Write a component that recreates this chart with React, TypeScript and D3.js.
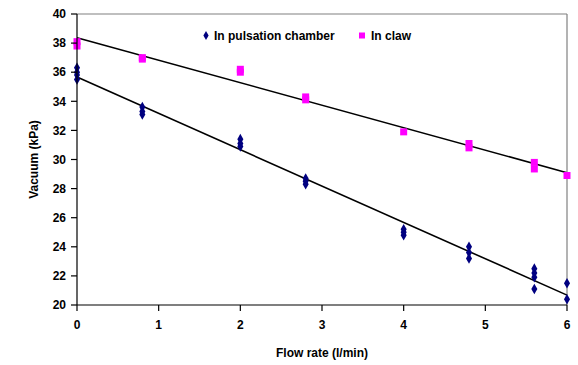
import React from 'react';
import * as d3 from 'd3';

// Flow rate (l/min) and vacuum (kPa) readings
const chamberX = [0, 0, 0, 0, 0.8, 0.8, 0.8, 2, 2, 2, 2.8, 2.8, 2.8, 4, 4, 4, 4.8, 4.8, 4.8, 5.6, 5.6, 5.6, 5.6, 6, 6];
const chamberY = [36.3, 36.0, 35.8, 35.5, 33.6, 33.3, 33.1, 31.4, 31.1, 30.9, 28.7, 28.5, 28.3, 25.2, 25.0, 24.8, 24.0, 23.6, 23.2, 22.5, 22.2, 21.9, 21.1, 21.5, 20.4];
const clawX = [0, 0, 0.8, 0.8, 2, 2, 2.8, 2.8, 4, 4.8, 4.8, 5.6, 5.6, 6];
const clawY = [38.1, 37.8, 37.0, 36.9, 36.2, 36.0, 34.3, 34.1, 31.9, 31.1, 30.8, 29.8, 29.35, 28.9];

const xTicks = [0, 1, 2, 3, 4, 5, 6];
const yTicks = [20, 22, 24, 26, 28, 30, 32, 34, 36, 38, 40];

const W = 578;
const H = 365;
const margin = { top: 14, right: 11, bottom: 60, left: 77 };
const FONT = '"Liberation Sans", Arial, sans-serif';

// least squares trend line
function fit(xs: number[], ys: number[]) {
  const mx = d3.mean(xs)!;
  const my = d3.mean(ys)!;
  let num = 0;
  let den = 0;
  xs.forEach((x, i) => {
    num += (x - mx) * (ys[i] - my);
    den += (x - mx) * (x - mx);
  });
  const slope = num / den;
  return { slope, intercept: my - slope * mx };
}

export default function App() {
  const innerW = W - margin.left - margin.right;
  const innerH = H - margin.top - margin.bottom;
  const x = d3.scaleLinear().domain([0, 6]).range([0, innerW]);
  const y = d3.scaleLinear().domain([20, 40]).range([innerH, 0]);

  const chamberFit = fit(chamberX, chamberY);
  const clawFit = fit(clawX, clawY);
  const trend = (f: { slope: number; intercept: number }) =>
    d3.line<[number, number]>().x(d => x(d[0])).y(d => y(d[1]))([
      [0, f.intercept],
      [6, f.intercept + 6 * f.slope],
    ]) || '';

  const diamond = d3.symbol().type(d3.symbolDiamond).size(32)() || '';

  return (
    <svg width={W} height={H} style={{ position: 'absolute', left: 0, top: 0, fontFamily: FONT }}>
      <rect width={W} height={H} fill="#fff" />
      <g transform={`translate(${margin.left},${margin.top})`}>
        {/* plot frame: gray top/right */}
        <line x1={0} x2={innerW} y1={0} y2={0} stroke="#808080" strokeWidth={1.2} />
        <line x1={innerW} x2={innerW} y1={0} y2={innerH} stroke="#808080" strokeWidth={1.2} />

        {/* trend lines */}
        <path d={trend(clawFit)} stroke="#000" strokeWidth={1.6} fill="none" />
        <path d={trend(chamberFit)} stroke="#000" strokeWidth={1.6} fill="none" />

        {/* points */}
        {clawX.map((v, i) => (
          <rect key={`c${i}`} x={x(v) - 3.5} y={y(clawY[i]) - 3.5} width={7} height={7} fill="#FF00FF" />
        ))}
        {chamberX.map((v, i) => (
          <path key={`p${i}`} d={diamond} transform={`translate(${x(v)},${y(chamberY[i])})`} fill="#000080" />
        ))}

        {/* axes */}
        <line x1={0} x2={0} y1={0} y2={innerH} stroke="#000" strokeWidth={1.2} />
        <line x1={0} x2={innerW} y1={innerH} y2={innerH} stroke="#000" strokeWidth={1.2} />
        {yTicks.map(t => (
          <g key={`y${t}`} transform={`translate(0,${y(t)})`}>
            <line x1={-6} x2={0} stroke="#000" strokeWidth={1.2} />
            <text x={-11} dy="0.35em" textAnchor="end" fontSize={12} fontWeight="bold">{t}</text>
          </g>
        ))}
        {xTicks.map(t => (
          <g key={`x${t}`} transform={`translate(${x(t)},${innerH})`}>
            <line y1={0} y2={6} stroke="#000" strokeWidth={1.2} />
            <text y={24} textAnchor="middle" fontSize={12} fontWeight="bold">{t}</text>
          </g>
        ))}

        {/* legend */}
        <path d={d3.symbol().type(d3.symbolDiamond).size(24)() || ''} transform="translate(129,21.5)" fill="#000080" />
        <text x={137} y={26} fontSize={12} fontWeight="bold">In pulsation chamber</text>
        <rect x={282} y={18.5} width={6} height={6} fill="#FF00FF" />
        <text x={294} y={26} fontSize={12} fontWeight="bold">In claw</text>
      </g>
      <text x={margin.left + innerW / 2} y={357} textAnchor="middle" fontSize={12} fontWeight="bold">Flow rate (l/min)</text>
      <text transform={`translate(38,${margin.top + innerH / 2}) rotate(-90)`} textAnchor="middle" fontSize={12} fontWeight="bold">Vacuum (kPa)</text>
    </svg>
  );
}
